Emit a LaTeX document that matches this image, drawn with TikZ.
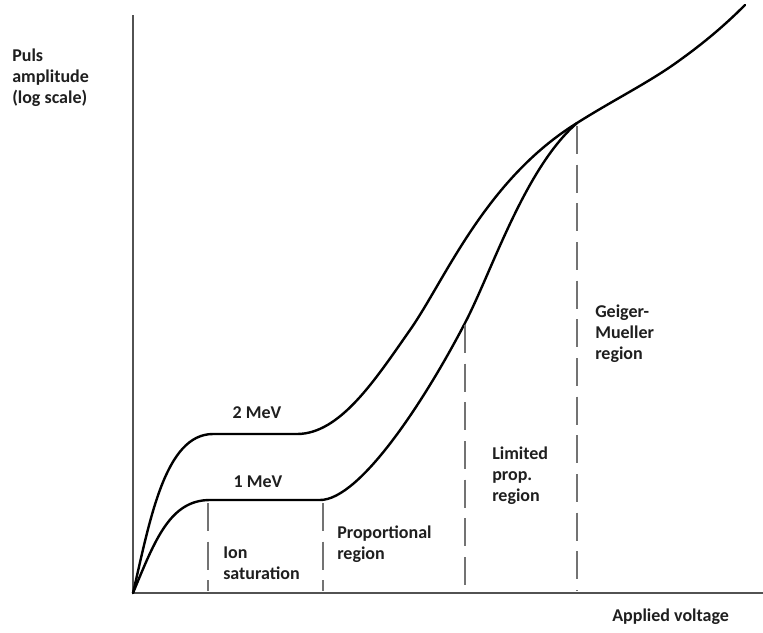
\documentclass[tikz,border=0pt]{standalone}
\usepackage{fontspec}
\setmainfont{Carlito}
\begin{document}
\begin{tikzpicture}[x=0.75pt,y=-0.75pt,
  axisline/.style={draw=black!68,line width=2.2pt},
  curveline/.style={draw=black,line width=1.8pt,line cap=round},
  divider/.style={draw=black!55,line width=1.5pt,dash pattern=on 21pt off 8pt},
  lbl/.style={font=\fontsize{13.5}{15.75}\selectfont\bfseries,text=black!88,inner sep=0pt,align=left},
]
\useasboundingbox (0,0) rectangle (763,632);
\fill[white] (0,0) rectangle (763,632);

% axes
\coordinate (origin) at (133,593);
\coordinate (ytop) at (133,15);
\coordinate (xend) at (763,593);
\draw[axisline] (ytop) -- (origin) -- (xend);

% curve anchor points
\coordinate (a1) at (213,434);
\coordinate (a2) at (297,434);
\coordinate (a3) at (410,330);
\coordinate (merge) at (577,123);
\coordinate (a6) at (680,60);
\coordinate (a7) at (745,5);

\coordinate (b1) at (210,500);
\coordinate (b2) at (320,500);
\coordinate (b3) at (465,323);

% 2 MeV curve
\draw[curveline] (origin) .. controls (150,520) and (165,434) .. (a1)
  -- (a2)
  .. controls (340,434) and (375,380) .. (a3)
  .. controls (445,280) and (485,180) .. (merge)
  .. controls (615,99) and (650,82) .. (a6)
  .. controls (705,42) and (725,25) .. (a7);

% 1 MeV curve
\draw[curveline] (origin) .. controls (155,540) and (170,500) .. (b1)
  -- (b2)
  .. controls (360,500) and (425,400) .. (b3)
  .. controls (492,271) and (525,168) .. (merge);

% region dividers
\coordinate (d1t) at (208,503);
\coordinate (d1b) at (208,591);
\coordinate (d2t) at (323,503);
\coordinate (d2b) at (323,591);
\coordinate (d3t) at (465,325);
\coordinate (d3b) at (465,591);
\coordinate (d4t) at (577,126);
\coordinate (d4b) at (577,591);
\draw[divider] (d1t) -- (d1b);
\draw[divider] (d2t) -- (d2b);
\draw[divider] (d3t) -- (d3b);
\draw[divider] (d4t) -- (d4b);

% labels
\node[lbl,anchor=west] (ylabel) at (12,78) {Puls\\amplitude\\(log scale)};
\node[lbl,anchor=west] (xlabel) at (612,617) {Applied voltage};
\node[lbl] (mev2) at (257,413) {2 MeV};
\node[lbl] (mev1) at (258,482) {1 MeV};
\node[lbl,anchor=west] (ion) at (223,563) {Ion\\saturation};
\node[lbl,anchor=west] (prop) at (337,544) {Proportional\\region};
\node[lbl,anchor=west] (limited) at (492,476) {Limited\\prop.\\region};
\node[lbl,anchor=west] (geiger) at (595,334) {Geiger-\\Mueller\\region};
\end{tikzpicture}
\end{document}
